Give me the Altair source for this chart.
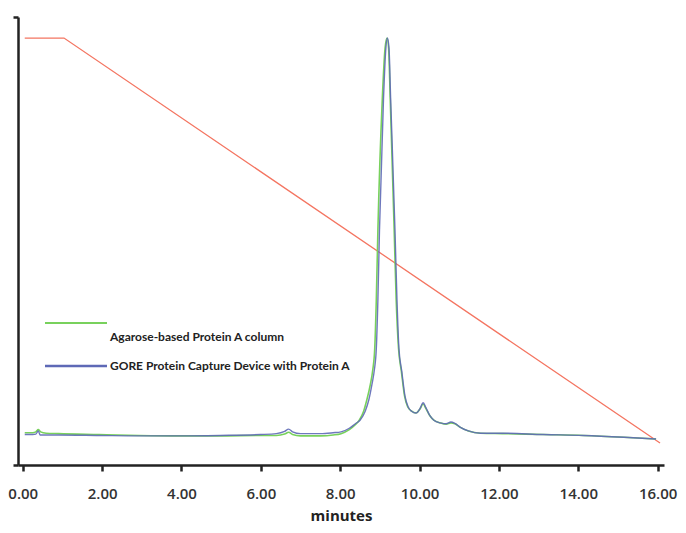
import altair as alt
import pandas as pd

# Blue trace: GORE Protein Capture Device with Protein A
blue_t = [0.05, 0.25, 0.33, 0.39, 0.44, 0.59, 0.90, 1.92, 2.93, 3.95, 4.97, 5.99, 6.39, 6.60, 6.70, 6.80, 7.00,
          7.51, 7.82, 8.02, 8.23, 8.38, 8.50, 8.63, 8.72, 8.80, 8.86, 8.91, 8.95, 8.99, 9.09, 9.15, 9.19, 9.23,
          9.27, 9.38, 9.43, 9.48, 9.55, 9.63, 9.71, 9.80, 9.91, 10.01, 10.09, 10.16, 10.26, 10.36, 10.52,
          10.67, 10.79, 10.89, 11.03, 11.23, 11.54, 12.09, 13.11, 14.13, 15.15, 15.96]
blue_v = [6.8, 6.8, 6.9, 7.6, 6.7, 6.7, 6.7, 6.6, 6.5, 6.5, 6.6, 6.8, 7.0, 7.5, 8.0, 7.4, 7.0,
          7.0, 7.2, 7.4, 8.2, 9.2, 10.0, 12.0, 14.5, 18.0, 21.2, 26.0, 37.0, 52.5, 81.5, 93.0, 95.3, 93.0,
          82.0, 52.5, 37.0, 26.0, 21.0, 15.5, 13.0, 12.0, 11.6, 12.6, 13.9, 12.8, 11.0, 10.0, 9.4,
          9.2, 9.6, 9.3, 8.4, 7.6, 7.1, 7.1, 6.8, 6.6, 6.2, 5.8]

# Green trace: Agarose-based Protein A column
green_t = [0.05, 0.25, 0.33, 0.39, 0.45, 0.59, 0.90, 1.92, 2.93, 3.95, 4.97, 5.99, 6.39, 6.60, 6.70, 6.80, 7.00,
           7.51, 7.82, 8.02, 8.23, 8.38, 8.48, 8.59, 8.67, 8.76, 8.82, 8.87, 8.91, 8.95, 9.06, 9.13, 9.18, 9.22,
           9.26, 9.36, 9.41, 9.47, 9.54, 9.62, 9.70, 9.80, 9.91, 10.01, 10.09, 10.16, 10.26, 10.36, 10.52,
           10.67, 10.79, 10.89, 11.03, 11.23, 11.54, 12.09, 13.11, 14.13, 15.15, 15.96]
green_v = [7.2, 7.2, 7.4, 7.9, 7.4, 7.1, 7.0, 6.8, 6.6, 6.5, 6.5, 6.6, 6.6, 6.9, 7.3, 6.8, 6.5,
           6.5, 6.7, 7.0, 7.9, 9.0, 10.0, 12.0, 14.5, 18.0, 21.2, 26.0, 37.0, 52.5, 81.5, 93.0, 95.3, 93.0,
           82.0, 52.5, 37.0, 26.0, 21.0, 15.5, 13.0, 12.0, 11.6, 12.5, 13.6, 12.6, 11.0, 10.0, 9.4,
           9.1, 9.4, 9.2, 8.4, 7.6, 7.1, 7.0, 6.8, 6.6, 6.2, 5.8]

# Gradient (red line)
grad_t = [0.05, 1.04, 16.06]
grad_v = [95.3, 95.3, 4.9]

x_ticks = [0, 2, 4, 6, 8, 10, 12, 14, 16]
legend_labels = ["Agarose-based Protein A column", "GORE Protein Capture Device with Protein A"]

GREEN = "#78d15c"
BLUE = "#5e69b6"
RED = "#f47561"

df_b = pd.DataFrame({"t": blue_t, "v": blue_v})
df_g = pd.DataFrame({"t": green_t, "v": green_v})
df_r = pd.DataFrame({"t": grad_t, "v": grad_v})

xs = alt.Scale(domain=[-0.12, 16.16], nice=False, zero=False)
ys = alt.Scale(domain=[0, 100], nice=False)

x_axis = alt.Axis(values=x_ticks, format=".2f", grid=False, labelFontSize=15, labelFont="Open Sans",
                  labelFontWeight=600, labelColor="#333333", labelPadding=15, labelFlush=False,
                  domainColor="#222222", domainWidth=2.5, tickColor="#222222", tickWidth=2.5, tickSize=6,
                  title="minutes", titleFont="Open Sans", titleFontSize=15, titleFontWeight="bold",
                  titleColor="#222222", titlePadding=7)
y_axis = alt.Axis(values=[0, 100], labels=False, grid=False, title=None,
                  domainColor="#222222", domainWidth=2.5, tickColor="#222222", tickWidth=2.5, tickSize=5)

red = alt.Chart(df_r).mark_line(color=RED, strokeWidth=1.3).encode(
    x=alt.X("t:Q", scale=xs, axis=x_axis),
    y=alt.Y("v:Q", scale=ys, axis=y_axis),
)
green = alt.Chart(df_g).mark_line(color=GREEN, strokeWidth=1.6, interpolate="monotone").encode(
    x=alt.X("t:Q", scale=xs), y=alt.Y("v:Q", scale=ys))
blue = alt.Chart(df_b).mark_line(color=BLUE, strokeWidth=1.4, interpolate="monotone", opacity=0.9).encode(
    x=alt.X("t:Q", scale=xs), y=alt.Y("v:Q", scale=ys))

one = pd.DataFrame({"a": [0]})
leg_g_line = alt.Chart(one).mark_rule(color=GREEN, strokeWidth=2).encode(
    x=alt.value(27), x2=alt.value(89), y=alt.value(306))
leg_b_line = alt.Chart(one).mark_rule(color=BLUE, strokeWidth=2.5).encode(
    x=alt.value(27), x2=alt.value(89), y=alt.value(349))
leg_g_text = alt.Chart(pd.DataFrame({"label": [legend_labels[0]]})).mark_text(
    align="left", baseline="middle", font="Lato", fontSize=12, fontWeight="bold", color="#222222").encode(
    x=alt.value(92), y=alt.value(320), text="label:N")
leg_b_text = alt.Chart(pd.DataFrame({"label": [legend_labels[1]]})).mark_text(
    align="left", baseline="middle", font="Lato", fontSize=12, fontWeight="bold", color="#222222").encode(
    x=alt.value(92), y=alt.value(349), text="label:N")

chart = alt.layer(red, green, blue, leg_g_line, leg_b_line, leg_g_text, leg_b_text).properties(
    width=646, height=448,
    autosize=alt.AutoSizeParams(type="none"),
    padding={"left": 10, "top": 9, "right": 14, "bottom": 60},
).configure_view(stroke=None)

chart.save("out.html", embed_options={"renderer": "svg", "actions": False})
